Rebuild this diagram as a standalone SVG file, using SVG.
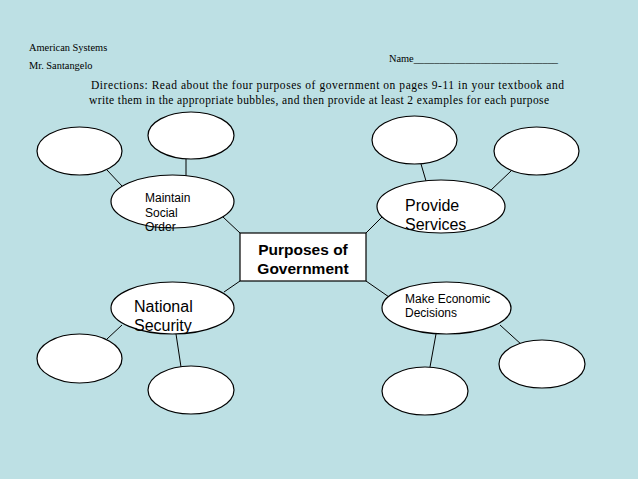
<svg xmlns="http://www.w3.org/2000/svg" width="638" height="479" viewBox="0 0 638 479">
<style>
.bub{fill:#fff;stroke:#000;stroke-width:1.2}
.ln{stroke:#000;stroke-width:1;fill:none}
.hd{font-family:"Liberation Serif",serif;font-size:10.4px;fill:#000}
.dir{font-family:"Liberation Serif",serif;font-size:11.5px;fill:#000}
.s{font-family:"Liberation Sans",Arial,sans-serif;font-size:12px;fill:#000}
.m{font-family:"Liberation Sans",Arial,sans-serif;font-size:16px;fill:#000}
.b{font-family:"Liberation Sans",Arial,sans-serif;font-size:15.5px;font-weight:bold;fill:#000}
</style>
<rect width="638" height="479" fill="#bde0e4"/>
<text class="hd" x="29" y="51">American Systems</text>
<text class="hd" x="29" y="69">Mr. Santangelo</text>
<text class="hd" x="389" y="62" textLength="169" lengthAdjust="spacing">Name____________________________</text>
<text class="dir" x="91" y="89" textLength="473" lengthAdjust="spacing">Directions: Read about the four purposes of government on pages 9-11 in your textbook and</text>
<text class="dir" x="89" y="104" textLength="460" lengthAdjust="spacing">write them in the appropriate bubbles, and then provide at least 2 examples for each purpose</text>
<g id="connectors">
<line class="ln" x1="186" y1="159" x2="186" y2="176"/>
<line class="ln" x1="107" y1="170" x2="122" y2="186"/>
<line class="ln" x1="223" y1="217" x2="240" y2="233"/>
<line class="ln" x1="421" y1="164" x2="426" y2="181"/>
<line class="ln" x1="511" y1="171" x2="490" y2="191"/>
<line class="ln" x1="382" y1="217" x2="366" y2="233"/>
<line class="ln" x1="122" y1="325" x2="107" y2="339"/>
<line class="ln" x1="176" y1="334" x2="181" y2="367"/>
<line class="ln" x1="224" y1="292" x2="240" y2="281"/>
<line class="ln" x1="500" y1="325" x2="522" y2="345"/>
<line class="ln" x1="436" y1="334" x2="430" y2="367"/>
<line class="ln" x1="366" y1="281" x2="389" y2="297"/>
</g>
<g id="center">
<rect x="240" y="233" width="126" height="48" fill="#fff" stroke="#000" stroke-width="1.2"/>
<text class="b" x="303" y="255" text-anchor="middle">Purposes of</text>
<text class="b" x="303" y="274" text-anchor="middle">Government</text>
</g>
<g id="maintain">
<ellipse class="bub" cx="172.5" cy="201.5" rx="61.5" ry="26.5"/>
<text class="s" x="145" y="202">Maintain</text>
<text class="s" x="145" y="217">Social</text>
<text class="s" x="145" y="231">Order</text>
</g>
<g id="ex-maintain-1"><ellipse class="bub" cx="79.5" cy="151" rx="42.5" ry="24"/></g>
<g id="ex-maintain-2"><ellipse class="bub" cx="191" cy="135.5" rx="43" ry="23.5"/></g>
<g id="provide">
<ellipse class="bub" cx="441" cy="206.5" rx="64" ry="26.5"/>
<text class="m" x="405" y="211">Provide</text>
<text class="m" x="405" y="230">Services</text>
</g>
<g id="ex-provide-1"><ellipse class="bub" cx="414.5" cy="140" rx="42.5" ry="24"/></g>
<g id="ex-provide-2"><ellipse class="bub" cx="536.5" cy="151" rx="42.5" ry="24"/></g>
<g id="national">
<ellipse class="bub" cx="172.5" cy="308" rx="61.5" ry="26"/>
<text class="m" x="134" y="312">National</text>
<text class="m" x="134" y="331">Security</text>
</g>
<g id="ex-national-1"><ellipse class="bub" cx="79.5" cy="358.5" rx="42.5" ry="24.5"/></g>
<g id="ex-national-2"><ellipse class="bub" cx="191" cy="390" rx="43" ry="24"/></g>
<g id="economic">
<ellipse class="bub" cx="446.5" cy="308" rx="64.5" ry="26"/>
<text class="s" x="405" y="303">Make Economic</text>
<text class="s" x="405" y="317">Decisions</text>
</g>
<g id="ex-economic-1"><ellipse class="bub" cx="542" cy="364" rx="43" ry="24"/></g>
<g id="ex-economic-2"><ellipse class="bub" cx="425" cy="391" rx="43" ry="24"/></g>
</svg>
